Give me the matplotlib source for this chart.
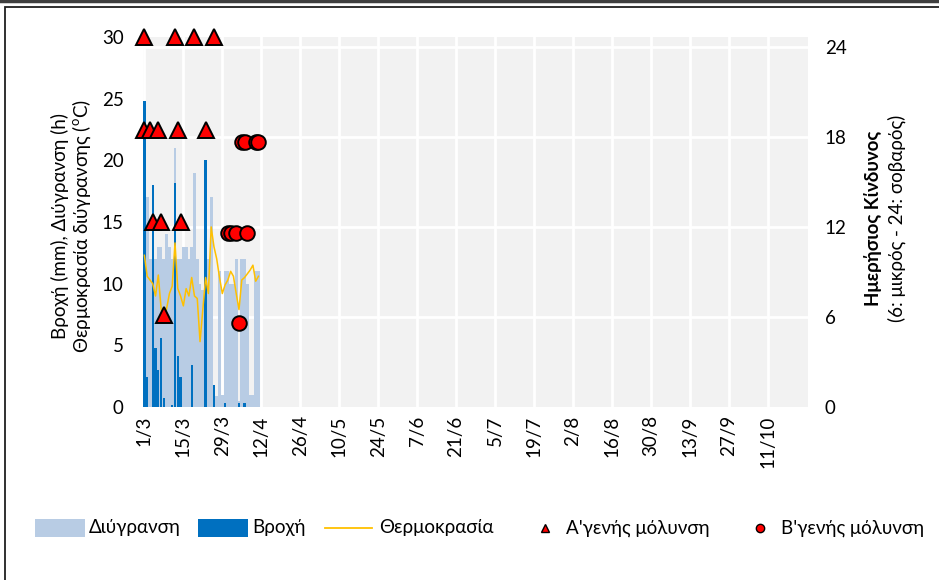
import numpy as np
import matplotlib
matplotlib.use("Agg")
import matplotlib.pyplot as plt
import matplotlib.dates as mdates
from matplotlib.lines import Line2D
from matplotlib.patches import Rectangle

plt.rcParams['font.family'] = ['Lato', 'Noto Sans', 'DejaVu Sans']

# ---------------- data ----------------
start = np.datetime64('2023-03-01')
dates = np.arange('2023-03-01', '2023-04-12', dtype='datetime64[D]')  # 1/3 .. 11/4

wetness = [17, 17, 12, 12, 12, 13, 13, 12, 14, 13, 12, 21, 12, 12,
           13, 13, 12, 13, 19, 12, 10, 9.5, 11, 12, 17, 1.4, 0.9, 11,
           1, 11, 11, 10, 10, 12, 0.5, 12, 12, 10, 1, 1, 11, 11]

rain = [24.8, 2.4, 0, 18, 4.8, 3.0, 5.6, 0.7, 0, 0, 0.2, 18.2, 4.1, 2.4,
        0, 0, 0, 3.4, 0, 0, 0, 0, 20, 0, 0, 1.8, 0, 0,
        0, 0.3, 0, 0, 0, 0, 0.3, 0, 0.3, 0, 0, 0, 0, 0]

temp = [12.3, 10.6, 10.3, 10.0, 9.0, 10.7, 8.0, 6.8, 8.0, 9.2, 9.8, 13.3, 9.6, 9.0,
        8.2, 9.6, 9.0, 10.5, 9.0, 8.8, 5.3, 7.9, 10.5, 9.2, 14.6, 13.0, 12.0, 10.5,
        9.2, 9.9, 10.3, 11.0, 10.6, 9.2, 7.9, 10.3, 10.5, 10.8, 11.1, 11.5, 10.2, 10.6]

prim_dates = ['2023-03-01', '2023-03-12', '2023-03-19', '2023-03-26',
              '2023-03-01', '2023-03-03', '2023-03-06', '2023-03-13', '2023-03-23',
              '2023-03-04', '2023-03-07', '2023-03-14',
              '2023-03-08']
prim_vals = [30, 30, 30, 30,
             22.5, 22.5, 22.5, 22.5, 22.5,
             15, 15, 15,
             7.5]

sec_dates = ['2023-03-31', '2023-04-01', '2023-04-03', '2023-04-07',
             '2023-04-05', '2023-04-06', '2023-04-10', '2023-04-11',
             '2023-04-04']
sec_vals = [14.1, 14.1, 14.1, 14.1,
            21.5, 21.5, 21.5, 21.5,
            6.8]

tick_labels = ['1/3', '15/3', '29/3', '12/4', '26/4', '10/5', '24/5', '7/6', '21/6',
               '5/7', '19/7', '2/8', '16/8', '30/8', '13/9', '27/9', '11/10']

left_ticks = [0, 5, 10, 15, 20, 25, 30]
right_ticks = [0, 6, 12, 18, 24]

legend_labels = ['Διύγρανση', 'Βροχή', 'Θερμοκρασία', "Α'γενής μόλυνση", "Β'γενής μόλυνση"]

# ---------------- figure ----------------
W, H = 939, 580
fig = plt.figure(figsize=(W / 100, H / 100), dpi=100)

ax_l, ax_r, ax_t, ax_b = 143, 808, 37, 407
ax = fig.add_axes([ax_l / W, 1 - ax_b / H, (ax_r - ax_l) / W, (ax_b - ax_t) / H])
ax.set_facecolor('#f2f2f2')

x = mdates.date2num(dates.astype('datetime64[s]').astype(object))
x0 = mdates.date2num(start.astype('datetime64[s]').astype(object))

C_LW, C_RAIN, C_T = '#b8cce4', '#0070c0', '#ffc000'

ax.bar(x, wetness, width=1.0, color=C_LW, zorder=2, linewidth=0)
ax.bar(x, rain, width=0.8, color=C_RAIN, zorder=3, linewidth=0)
ax.plot(x, temp, color=C_T, lw=1.1, zorder=4)

px = mdates.date2num(np.array(prim_dates, dtype='datetime64[s]').astype(object))
sx = mdates.date2num(np.array(sec_dates, dtype='datetime64[s]').astype(object))
ax.plot(px, prim_vals, ls='none', marker='^', ms=11, mfc='#ff0000', mec='black',
        mew=1.4, zorder=6, clip_on=False)
ax.plot(sx, sec_vals, ls='none', marker='o', ms=10.5, mfc='#ff0000', mec='black',
        mew=1.4, zorder=6, clip_on=False)

ax.set_xlim(x0 - 0.5, x0 + 238.5)
ax.set_ylim(0, 30)

tick_pos = [x0 + 14 * i for i in range(len(tick_labels))]
ax.set_xticks(tick_pos)
ax.set_xticklabels(tick_labels, rotation=90, fontsize=13.5)
ax.set_yticks(left_ticks)
ax.set_yticklabels([str(t) for t in left_ticks], fontsize=13.5)
ax.tick_params(axis='x', length=0, pad=6)
ax.tick_params(axis='y', length=0, pad=14)

ax.grid(axis='x', color='white', lw=2, zorder=1)
ax.set_axisbelow(True)

rmax = 24 * (ax_b - ax_t) / 360.0
for v in right_ticks[1:]:
    ax.axhline(v * 30 / rmax, color='white', lw=2, zorder=1)

for s in ax.spines.values():
    s.set_visible(False)

ax2 = ax.twinx()
ax2.set_ylim(0, rmax)
ax2.set_yticks(right_ticks)
ax2.set_yticklabels([str(t) for t in right_ticks], fontsize=13.5)
ax2.tick_params(axis='y', length=0, pad=12)
for s in ax2.spines.values():
    s.set_visible(False)

# axis titles
fig.text(60 / W, 1 - 226 / H, 'Βροχή (mm), Διύγρανση (h)', rotation=90,
         ha='center', va='center', fontsize=13.5)
fig.text(82 / W, 1 - 226 / H, 'Θερμοκρασία διύγρανσης ($^\\mathregular{o}$C)', rotation=90,
         ha='center', va='center', fontsize=13.5)
fig.text(873 / W, 1 - 218 / H, 'Ημερήσιος Κίνδυνος', rotation=90,
         ha='center', va='center', fontsize=13.5, fontweight='bold')
fig.text(897 / W, 1 - 218 / H, '(6: μικρός - 24: σοβαρός)', rotation=90,
         ha='center', va='center', fontsize=13.5)

# legend (placed by hand, like the Excel legend row)
ly = 1 - 528 / H
fig.add_artist(Rectangle((35 / W, ly - 9 / H), 50 / W, 18 / H, facecolor=C_LW,
                         edgecolor='none', transform=fig.transFigure))
fig.add_artist(Rectangle((198 / W, ly - 9 / H), 50 / W, 18 / H, facecolor=C_RAIN,
                         edgecolor='none', transform=fig.transFigure))
fig.add_artist(Line2D([325 / W, 372 / W], [ly, ly], color=C_T, lw=1.3,
                      transform=fig.transFigure))
fig.add_artist(Line2D([545 / W], [ly], ls='none', marker='^', ms=6, mfc='#ff0000',
                      mec='black', mew=1, transform=fig.transFigure))
fig.add_artist(Line2D([760 / W], [ly], ls='none', marker='o', ms=6, mfc='#ff0000',
                      mec='black', mew=1, transform=fig.transFigure))
for lx, lab in zip([89, 252, 379, 566, 781], legend_labels):
    fig.text(lx / W, ly, lab, ha='left', va='center', fontsize=13.5)

# chart borders
fig.add_artist(Line2D([0, 1], [1 - 1 / H, 1 - 1 / H], color='#404040', lw=2.5,
                      transform=fig.transFigure))
fig.add_artist(Rectangle((5 / W, -0.05), 1.1, 1 - 7 / H + 0.05, fill=False,
                         edgecolor='#202020', lw=1.3, transform=fig.transFigure))

fig.savefig('out.png', dpi=100)
